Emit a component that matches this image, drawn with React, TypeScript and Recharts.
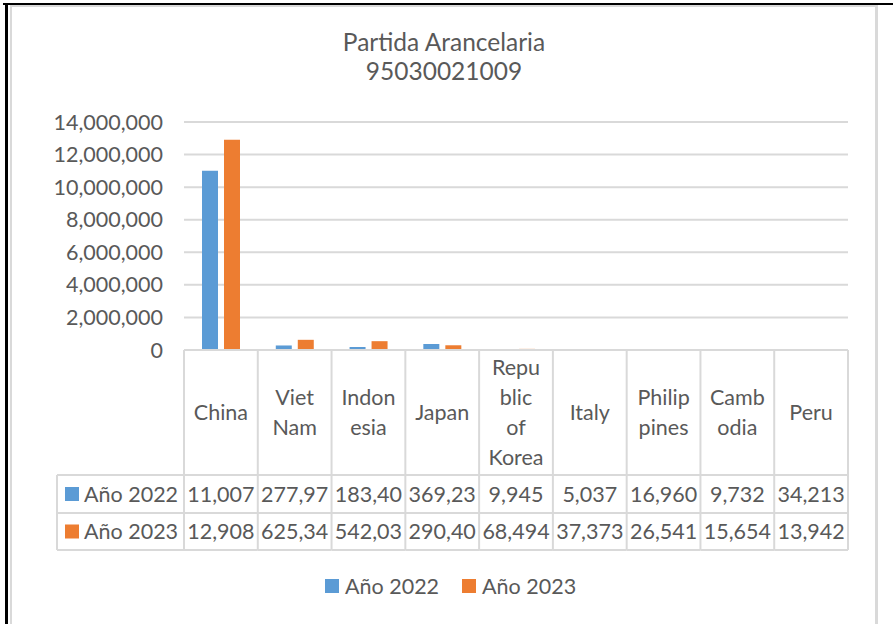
import React from 'react';
import { Bar, BarChart, CartesianGrid, Legend, XAxis, YAxis } from 'recharts';

const categories = ['China', 'Viet Nam', 'Indonesia', 'Japan', 'Republic of Korea', 'Italy', 'Philippines', 'Cambodia', 'Peru'];
// header cells as wrapped in the data table
const headerLines = [['China'], ['Viet', 'Nam'], ['Indon', 'esia'], ['Japan'], ['Repu', 'blic', 'of', 'Korea'], ['Italy'], ['Philip', 'pines'], ['Camb', 'odia'], ['Peru']];
const year2022 = [11007000, 277970, 183400, 369230, 9945, 5037, 16960, 9732, 34213];
const year2023 = [12908000, 625340, 542030, 290400, 68494, 37373, 26541, 15654, 13942];
// values as printed (cut off) in the data table
const label2022 = ['11,007', '277,97', '183,40', '369,23', '9,945', '5,037', '16,960', '9,732', '34,213'];
const label2023 = ['12,908', '625,34', '542,03', '290,40', '68,494', '37,373', '26,541', '15,654', '13,942'];
const yTicks = [0, 2000000, 4000000, 6000000, 8000000, 10000000, 12000000, 14000000];

const BLUE = '#5B9BD5';
const ORANGE = '#ED7D31';
const GRID = '#D9D9D9';
const TEXT = '#595959';
const FONT = 'Lato';
const FS = 21.5;

const data = categories.map((c, i) => ({ name: c, a2022: year2022[i], a2023: year2023[i] }));

const TableTick = (props: any) => {
    const { x, y, payload, index } = props;
    const half = payload && payload.offset ? payload.offset : 36.9;
    const left = x - half;
    const right = x + half;
    const lines = headerLines[index] || [payload.value];
    const hdrH = 125;
    const r1 = y + hdrH;
    const r2 = r1 + 38;
    const r3 = r2 + 37;
    const mid = y + hdrH / 2;
    const txt = { fill: TEXT, fontSize: FS, fontFamily: FONT, textAnchor: 'middle' as const };
    const lineStyle = { stroke: GRID, strokeWidth: 2 };
    const labW = 127;
    return (
        <g>
            <line x1={right} y1={y} x2={right} y2={r3} {...lineStyle} />
            {index === 0 && <line x1={left} y1={y} x2={left} y2={r3} {...lineStyle} />}
            <line x1={left} y1={r1} x2={right} y2={r1} {...lineStyle} />
            <line x1={left} y1={r2} x2={right} y2={r2} {...lineStyle} />
            <line x1={left} y1={r3} x2={right} y2={r3} {...lineStyle} />
            {lines.map((l: string, k: number) => (
                <text key={k} x={x} y={mid - (lines.length - 1) * 15 + k * 30} dy="0.355em" {...txt}>{l}</text>
            ))}
            <text x={x} y={(r1 + r2) / 2} dy="0.355em" {...txt}>{label2022[index]}</text>
            <text x={x} y={(r2 + r3) / 2} dy="0.355em" {...txt}>{label2023[index]}</text>
            {index === 0 && (
                <g>
                    <line x1={left - labW} y1={r1} x2={left} y2={r1} {...lineStyle} />
                    <line x1={left - labW} y1={r2} x2={left} y2={r2} {...lineStyle} />
                    <line x1={left - labW} y1={r3} x2={left} y2={r3} {...lineStyle} />
                    <line x1={left - labW} y1={r1} x2={left - labW} y2={r3} {...lineStyle} />
                    <rect x={left - labW + 8} y={(r1 + r2) / 2 - 7} width={14} height={14} fill={BLUE} />
                    <text x={left - labW + 27} y={(r1 + r2) / 2} dy="0.355em" {...txt} textAnchor="start">Año 2022</text>
                    <rect x={left - labW + 8} y={(r2 + r3) / 2 - 7} width={14} height={14} fill={ORANGE} />
                    <text x={left - labW + 27} y={(r2 + r3) / 2} dy="0.355em" {...txt} textAnchor="start">Año 2023</text>
                </g>
            )}
        </g>
    );
};

const renderLegend = (props: any) => {
    const { payload } = props;
    return (
        <div style={{ display: 'flex', alignItems: 'center', fontFamily: FONT, fontSize: FS, color: TEXT }}>
            {(payload || []).map((p: any, i: number) => (
                <div key={i} style={{ display: 'flex', alignItems: 'center', marginRight: 23 }}>
                    <span style={{ display: 'inline-block', width: 14, height: 14, background: p.color, marginRight: 6 }} />
                    <span>{p.value}</span>
                </div>
            ))}
        </div>
    );
};

const App: React.FC = () => {
    return (
        <div style={{ position: 'absolute', left: 0, top: 0, width: 893, height: 624, background: '#fff', overflow: 'hidden' }}>
            {/* frame lines */}
            <div style={{ position: 'absolute', left: 3, top: 3, width: 890, height: 2, background: '#000' }} />
            <div style={{ position: 'absolute', left: 5, top: 3, width: 3, height: 621, background: '#000' }} />
            <div style={{ position: 'absolute', left: 10, top: 5, width: 2, height: 619, background: GRID }} />
            <div style={{ position: 'absolute', left: 10, top: 5, width: 868, height: 2, background: GRID }} />
            <div style={{ position: 'absolute', left: 875, top: 5, width: 3, height: 619, background: GRID }} />
            <div style={{ position: 'absolute', left: 0, top: 27, width: 888, textAlign: 'center', fontFamily: FONT, fontSize: 24.5, lineHeight: '29px', color: TEXT }}>
                Partida Arancelaria<br />95030021009
            </div>
            <div style={{ position: 'absolute', left: 0, top: 0 }}>
                <BarChart width={893} height={624} data={data}
                    margin={{ top: 122, right: 45, bottom: 74, left: 0 }}
                    barSize={16} barGap={6}>
                    <CartesianGrid vertical={false} stroke={GRID} strokeWidth={2} />
                    <XAxis dataKey="name" height={200} interval={0} tickSize={0} tickMargin={0}
                        tickLine={false} axisLine={{ stroke: GRID, strokeWidth: 2 }} tick={<TableTick />} />
                    <YAxis width={184} domain={[0, 14000000]} ticks={yTicks} axisLine={false} tickLine={false}
                        tickSize={0} tickMargin={21}
                        tick={{ fill: TEXT, fontSize: FS, fontFamily: FONT }}
                        tickFormatter={(v: number) => v.toLocaleString('en-US')} />
                    <Legend verticalAlign="middle" align="center" content={renderLegend}
                        wrapperStyle={{ top: 573, left: 325, width: 400 }} />
                    <Bar dataKey="a2022" name="Año 2022" fill={BLUE} isAnimationActive={false} />
                    <Bar dataKey="a2023" name="Año 2023" fill={ORANGE} isAnimationActive={false} />
                </BarChart>
            </div>
        </div>
    );
};

export default App;
